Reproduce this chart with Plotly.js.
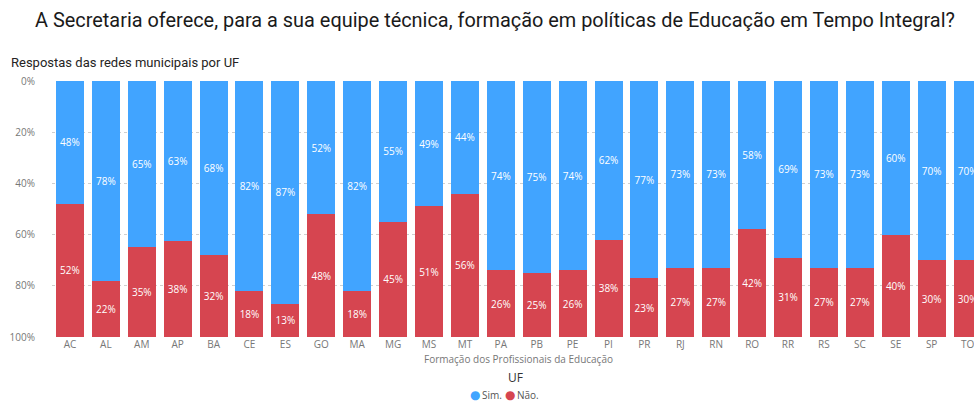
<!DOCTYPE html>
<html>
<head>
<meta charset="utf-8">
<script src="https://cdn.plot.ly/plotly-3.0.1.min.js"></script>
<style>html,body{margin:0;padding:0;background:#fff;overflow:hidden}#chart{width:974px;height:401px}</style>
</head>
<body>
<div id="chart"></div>
<script>
const categories = ["AC","AL","AM","AP","BA","CE","ES","GO","MA","MG","MS","MT","PA","PB","PE","PI","PR","RJ","RN","RO","RR","RS","SC","SE","SP","TO"];
const simValues = [48,78,65,62.5,68,82,87,52,82,55,49,44,74,75,74,62,77,73,73,58,69,73,73,60,70,70];
const naoValues = [52,22,35,37.5,32,18,13,48,18,45,51,56,26,25,26,38,23,27,27,42,31,27,27,40,30,30];
const yTickVals = [0,20,40,60,80,100];
const yTickText = ["0%","20%","40%","60%","80%","100%"];
const seriesNames = ["Sim.", "Não."];

const blue = "#41A4FF";
const red = "#D64550";
const fontFam = "'Open Sans', 'Noto Sans', sans-serif";

const mk = (name, vals, color) => ({
  type: "bar", name: name, x: categories, y: vals,
  marker: {color: color},
  text: vals.map(v => Math.round(v) + "%"),
  textposition: "inside", insidetextanchor: "middle",
  textangle: 0,
  textfont: {color: "#ffffff", size: 10, family: fontFam},
  constraintext: "none",
  cliponaxis: true,
  hoverinfo: "none",
  showlegend: false
});

const data = [mk(seriesNames[0], simValues, blue), mk(seriesNames[1], naoValues, red)];

const px = x => (x - 52) / 922;
const py = y => (337 - y) / 256;

const layout = {
  width: 974, height: 401,
  margin: {l: 52, r: 0, t: 81, b: 64},
  paper_bgcolor: "#fff", plot_bgcolor: "#fff",
  barmode: "stack", bargap: 0.22,
  showlegend: false,
  title: {
    text: "A Secretaria oferece, para a sua equipe técnica, formação em políticas de Educação em Tempo Integral?",
    font: {family: "Roboto, 'DejaVu Sans', sans-serif", size: 19.9, color: "#1a1a1a"},
    x: 495/974, xanchor: "center", xref: "container", y: 1 - 20/401, yref: "container", yanchor: "middle"
  },
  xaxis: {
    type: "category", range: [-0.5, 25.18], fixedrange: true,
    showgrid: false, zeroline: false, showline: false, ticks: "",
    tickfont: {family: fontFam, size: 10, color: "#777"},
    automargin: false
  },
  yaxis: {
    range: [100, 0], tickvals: yTickVals, ticktext: yTickText,
    tickfont: {family: fontFam, size: 10, color: "#777"},
    showgrid: true, gridcolor: "#cfcfcf", griddash: "dot", gridwidth: 1,
    zeroline: false, showline: false,
    ticks: "outside", ticklen: 14, tickcolor: "rgba(0,0,0,0)",
    automargin: false
  },
  annotations: [
    {text: "Respostas das redes municipais por UF", xref: "paper", yref: "paper",
     x: px(9), y: py(62), xanchor: "left", yanchor: "middle", showarrow: false,
     font: {family: "Roboto, 'DejaVu Sans', sans-serif", size: 13, color: "#252423"}},
    {text: "Formação dos Profissionais da Educação", xref: "paper", yref: "paper",
     x: px(518), y: py(359), xanchor: "center", yanchor: "middle", showarrow: false,
     font: {family: fontFam, size: 10, color: "#777"}},
    {text: "UF", xref: "paper", yref: "paper",
     x: px(515), y: py(377), xanchor: "center", yanchor: "middle", showarrow: false,
     font: {family: fontFam, size: 12, color: "#333"}},
    {text: "●", xref: "paper", yref: "paper",
     x: px(475), y: py(395), xanchor: "center", yanchor: "middle", showarrow: false,
     font: {family: "'DejaVu Sans', sans-serif", size: 12, color: blue}},
    {text: seriesNames[0], xref: "paper", yref: "paper",
     x: px(480), y: py(395), xanchor: "left", yanchor: "middle", showarrow: false,
     font: {family: fontFam, size: 10, color: "#555"}},
    {text: "●", xref: "paper", yref: "paper",
     x: px(510), y: py(395), xanchor: "center", yanchor: "middle", showarrow: false,
     font: {family: "'DejaVu Sans', sans-serif", size: 12, color: red}},
    {text: seriesNames[1], xref: "paper", yref: "paper",
     x: px(515), y: py(395), xanchor: "left", yanchor: "middle", showarrow: false,
     font: {family: fontFam, size: 10, color: "#555"}}
  ]
};

Plotly.newPlot("chart", data, layout, {displayModeBar: false, staticPlot: true});
</script>
</body>
</html>
